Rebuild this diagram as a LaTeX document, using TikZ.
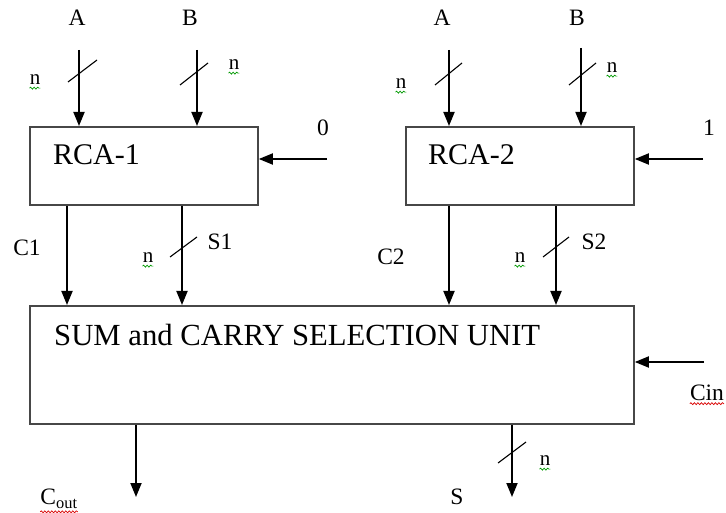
\documentclass[tikz,border=0pt]{standalone}
\usepackage{fontspec}
\setmainfont{Liberation Serif}
\usetikzlibrary{arrows.meta,decorations.pathmorphing}
\begin{document}
\begin{tikzpicture}[x=1pt,y=-1pt,
  blk/.style={draw=black!72, line width=1.8pt, fill=white, inner sep=0pt, anchor=north west},
  arr/.style={line width=1.8pt, -{Triangle[length=14pt,width=11pt]}},
  bus/.style={line width=1.1pt},
  lbl/.style={font=\fontsize{23.5}{23.5}\selectfont, inner sep=0pt},
  nlbl/.style={font=\fontsize{21}{21}\selectfont, inner sep=0pt},
  big/.style={font=\fontsize{30}{30}\selectfont, inner sep=0pt, anchor=west},
  spellg/.style={draw=green!60!black, line width=0.7pt, decorate, decoration={snake,amplitude=1pt,segment length=3.5pt}},
  spellr/.style={draw=red!85!black, line width=0.7pt, decorate, decoration={snake,amplitude=1pt,segment length=3.5pt}}]
\useasboundingbox (0,0) rectangle (726,513);

% blocks
\node[blk, minimum width=228pt, minimum height=78pt] (rca1) at (29,126) {};
\node[blk, minimum width=228pt, minimum height=78pt] (rca2) at (405,126) {};
\node[blk, minimum width=604pt, minimum height=118pt] (sum) at (29,305) {};
\node[big] (rca1t) at (53,155) {RCA-1};
\node[big] (rca2t) at (428,155) {RCA-2};
\node[big, font=\fontsize{30.7}{30.7}\selectfont] (sumt) at (54,335) {SUM and CARRY SELECTION UNIT};

% input labels
\node[lbl] (A1) at (77,18) {A};
\node[lbl] (B1) at (190,18) {B};
\node[lbl] (A2) at (442,18) {A};
\node[lbl] (B2) at (577,18) {B};
\node[lbl] (zero) at (323,128) {0};
\node[lbl] (one) at (709,128) {1};

% input arrows
\coordinate (a1s) at (79,50);
\coordinate (b1s) at (197,50);
\coordinate (a2s) at (449,50);
\coordinate (b2s) at (581,48);
\draw[arr] (a1s) -- (a1s |- rca1.north);
\draw[arr] (b1s) -- (b1s |- rca1.north);
\draw[arr] (a2s) -- (a2s |- rca2.north);
\draw[arr] (b2s) -- (b2s |- rca2.north);
\coordinate (c0) at (327,159);
\coordinate (c1in) at (703,159);
\draw[arr] (c0) -- (c0 -| rca1.east);
\draw[arr] (c1in) -- (c1in -| rca2.east);

% bus marks on inputs
\draw[bus] (68,82) -- (97,60);
\draw[bus] (180,85) -- (208,63);
\draw[bus] (435,85) -- (462,63);
\draw[bus] (569,85) -- (596,63);
\node[nlbl] (nA1) at (35,80) {n};
\node[nlbl] (nB1) at (234,65) {n};
\node[nlbl] (nA2) at (401,84) {n};
\node[nlbl] (nB2) at (612,68) {n};

% intermediate arrows
\coordinate (xc1) at (67,0);
\coordinate (xs1) at (182,0);
\coordinate (xc2) at (449,0);
\coordinate (xs2) at (556,0);
\draw[arr] (xc1 |- rca1.south) -- (xc1 |- sum.north);
\draw[arr] (xs1 |- rca1.south) -- (xs1 |- sum.north);
\draw[arr] (xc2 |- rca2.south) -- (xc2 |- sum.north);
\draw[arr] (xs2 |- rca2.south) -- (xs2 |- sum.north);
\draw[bus] (170,257) -- (197,237);
\draw[bus] (543,257) -- (569,237);
\node[lbl] (C1) at (27,248) {C1};
\node[lbl] (S1) at (220,242) {S1};
\node[lbl] (C2) at (391,257) {C2};
\node[lbl] (S2) at (594,242) {S2};
\node[nlbl] (nS1) at (148,258) {n};
\node[nlbl] (nS2) at (520,258) {n};

% carry in of selection unit
\coordinate (cin) at (704,362);
\draw[arr] (cin) -- (cin -| sum.east);
\node[lbl] (Cin) at (707,393) {Cin};

% outputs
\coordinate (cout) at (136,497);
\coordinate (sout) at (512,497);
\draw[arr] (cout |- sum.south) -- (cout);
\draw[arr] (sout |- sum.south) -- (sout);
\draw[bus] (498,463) -- (526,442);
\node[nlbl] (nS) at (545,461) {n};
\node[lbl] (Cout) at (59,499) {C\textsubscript{out}};
\node[lbl] (S) at (457,497) {S};

% spell-check marks
\foreach \nn in {nA1,nB1,nA2,nB2,nS1,nS2,nS}
  \draw[spellg] ([yshift=-3pt]\nn.south west) -- ([yshift=-3pt]\nn.south east);
\draw[spellr] ([yshift=-3pt]Cin.base west) -- ([yshift=-3pt]Cin.base east);
\draw[spellr] ([yshift=-7pt]Cout.base west) -- ([yshift=-7pt]Cout.base east);
\end{tikzpicture}
\end{document}
